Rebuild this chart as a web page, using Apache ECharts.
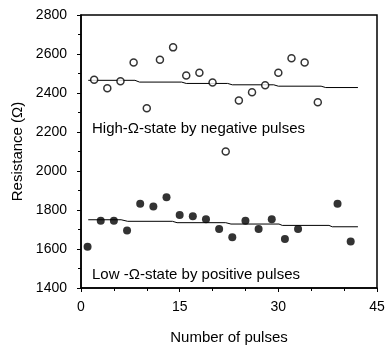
<!DOCTYPE html>
<html>
<head>
<meta charset="utf-8">
<script src="https://cdn.jsdelivr.net/npm/echarts@6/dist/echarts.min.js"></script>
<style>
  html, body { margin: 0; padding: 0; background: #fff; }
  #main { width: 388px; height: 350px; }
</style>
</head>
<body>
<div id="main"></div>
<script>
// high resistance state (open circles), even pulse numbers
var highX = [2, 4, 6, 8, 10, 12, 14, 16, 18, 20, 22, 24, 26, 28, 30, 32, 34, 36];
var highY = [2468, 2424, 2460, 2556, 2322, 2570, 2634, 2490, 2504, 2454, 2100, 2362, 2404, 2440, 2504, 2578, 2556, 2352];
// low resistance state (filled circles), odd pulse numbers
var lowX = [1, 3, 5, 7, 9, 11, 13, 15, 17, 19, 21, 23, 25, 27, 29, 31, 33, 39, 41];
var lowY = [1612, 1745, 1745, 1695, 1832, 1818, 1866, 1775, 1768, 1752, 1702, 1660, 1745, 1702, 1752, 1651, 1702, 1832, 1638];
// trend lines
var highFitX = [1.1, 8.2, 8.9, 15.3, 16.0, 22.3, 23.0, 29.3, 30.0, 36.5, 37.2, 42.1];
var highFitY = [2465, 2465, 2456, 2456, 2449, 2449, 2442, 2442, 2435, 2435, 2428, 2428];
var lowFitX = [1.1, 6.1, 7.1, 13.9, 14.6, 22.0, 22.8, 30.1, 30.6, 37.7, 38.2, 42.1];
var lowFitY = [1750, 1750, 1742, 1742, 1735, 1735, 1728, 1728, 1721, 1721, 1714, 1714];

function pairs(xs, ys) {
    var out = [];
    for (var i = 0; i < xs.length; i++) out.push([xs[i], ys[i]]);
    return out;
}

var chart = echarts.init(document.getElementById('main'));
var font = 'Liberation Sans, Arial, sans-serif';

var option = {
    animation: false,
    backgroundColor: '#fff',
    grid: {
        left: 81, right: 11, top: 15, bottom: 60,
        show: true, borderColor: '#000', borderWidth: 1.5
    },
    xAxis: {
        type: 'value', min: 0, max: 45, interval: 15,
        name: 'Number of pulses', nameLocation: 'middle', nameGap: 42,
        nameTextStyle: { fontFamily: font, fontSize: 15, color: '#000' },
        axisLine: { lineStyle: { color: '#000', width: 1.5 } },
        axisTick: { length: 4, lineStyle: { color: '#000', width: 1 } },
        minorTick: { show: true, splitNumber: 3, length: 3, lineStyle: { color: '#000' } },
        axisLabel: { fontFamily: font, fontSize: 14, color: '#000', margin: 12 },
        splitLine: { show: false }
    },
    yAxis: {
        type: 'value', min: 1400, max: 2800, interval: 200,
        name: 'Resistance (Ω)', nameLocation: 'middle', nameGap: 56,
        nameTextStyle: { fontFamily: font, fontSize: 15, color: '#000' },
        axisLine: { show: true, lineStyle: { color: '#000', width: 1.5 } },
        axisTick: { length: 4, lineStyle: { color: '#000', width: 1 } },
        minorTick: { show: true, splitNumber: 2, length: 3, lineStyle: { color: '#000' } },
        axisLabel: {
            fontFamily: font, fontSize: 14, color: '#000', margin: 14,
            formatter: function (v) { return String(v); }
        },
        splitLine: { show: false }
    },
    graphic: [
        { type: 'text', left: 92, top: 121,
          style: { text: 'High-Ω-state by negative pulses', font: '15px ' + font, fill: '#000' } },
        { type: 'text', left: 92, top: 267,
          style: { text: 'Low -Ω-state by positive pulses', font: '15px ' + font, fill: '#000' } }
    ],
    series: [
        {
            type: 'line', data: pairs(highFitX, highFitY), symbol: 'none',
            lineStyle: { color: '#000', width: 1 }, z: 2
        },
        {
            type: 'line', data: pairs(lowFitX, lowFitY), symbol: 'none',
            lineStyle: { color: '#000', width: 1 }, z: 2
        },
        {
            type: 'scatter', data: pairs(highX, highY), symbol: 'circle', symbolSize: 7,
            itemStyle: { color: '#fff', borderColor: '#000', borderWidth: 1.5 }, z: 3
        },
        {
            type: 'scatter', data: pairs(lowX, lowY), symbol: 'circle', symbolSize: 8,
            itemStyle: { color: '#000' }, z: 3
        }
    ]
};
chart.setOption(option);
</script>
</body>
</html>
